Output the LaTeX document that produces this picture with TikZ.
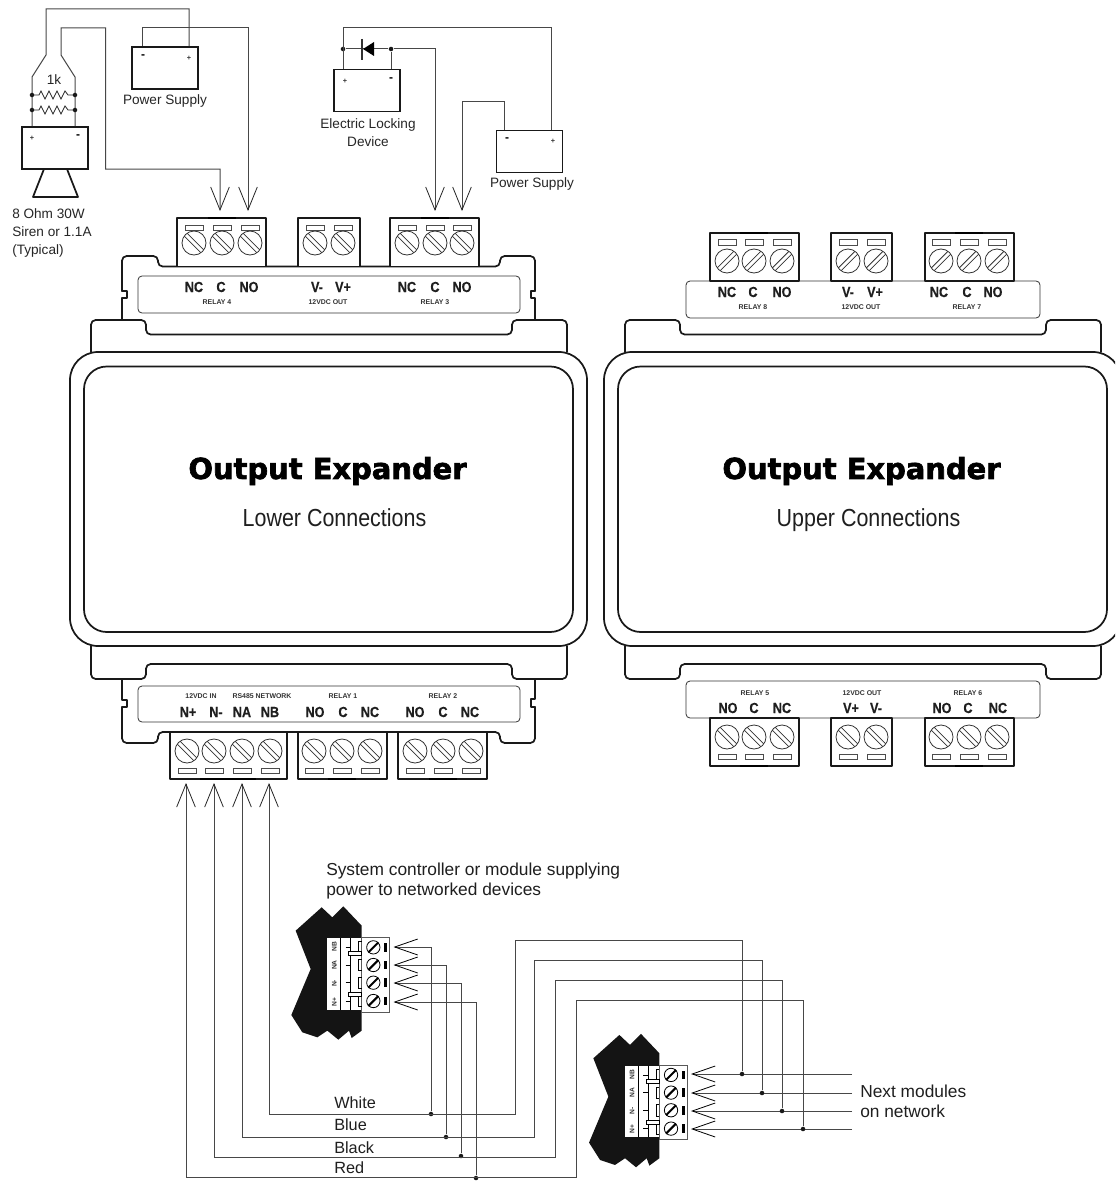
\documentclass[tikz,border=0pt]{standalone}
\usepackage{fontspec}
\setmainfont{Liberation Sans}
\newfontfamily\titlefont[FakeBold=2.2]{DejaVu Sans}
\newfontfamily\subfont[FakeStretch=0.87]{Liberation Sans}
\newfontfamily\termfont[FakeStretch=0.86,FakeBold=0.4]{Liberation Sans}
\usetikzlibrary{arrows.meta}
\newcommand{\fsz}[2]{\fontsize{#1}{#2}\selectfont}
\tikzset{
  thickl/.style={line width=1.3pt,black!90,line join=round,line cap=round},
  thinl/.style={line width=0.6pt,black!80},
  wire/.style={line width=0.75pt,black!72},
  barb/.style={-{Straight Barb[length=17.25pt,width=14pt,line width=0.6pt,black!85]}},
  barbs/.style={-{Straight Barb[length=17.25pt,width=12pt,line width=0.6pt,black]}},
  jdot/.style={circle,fill=black!90,inner sep=0,minimum size=3.4pt},
  devbox/.style={draw,line width=1.4pt,black!90,fill=white,inner sep=0,minimum width=49.5pt,minimum height=31.5pt},
  term/.style={inner sep=0,font=\termfont\bfseries\fsz{11}{12},text=black!88},
  small/.style={inner sep=0,font=\bfseries\fsz{5.2}{6},text=black!80},
  txt/.style={inner sep=0,font=\fsz{10.2}{13.2},text=black!85,align=center},
  big/.style={inner sep=0,font=\fsz{13}{15},text=black!88,align=left},
  signp/.style={inner sep=0,font=\bfseries\fsz{5.5}{7},text=black!80},
  signm/.style={inner sep=0,font=\bfseries\fsz{9}{10},text=black},
  title/.style={inner sep=0,font=\titlefont\bfseries\fsz{21.7}{24}},
  subt/.style={inner sep=0,anchor=base,font=\subfont\fsz{18.5}{22},text=black!88},
}
\newcommand{\screw}[3]{%
  \draw[thinl,fill=white] (#1,#2) circle[radius=12];
  \draw[thinl,shift={(#1,#2)},rotate=#3] (-11.8,-2)--(11.8,-2) (-11.8,2)--(11.8,2);}
\newcommand{\slotb}[3]{\draw[line width=0.6pt,black!70,fill=white] (#1-9,#2) rectangle (#1+9,#3);}
\newcommand{\modbody}{%
  \draw[thickl,rounded corners=21pt] (70,352) rectangle (587,646);
  \draw[thickl,rounded corners=17pt] (84,366.5) rectangle (573,632);
  \draw[thickl,rounded corners=3.5pt] (91,352)--(91,320)--(146,320)--(146,334.5)--(512,334.5)--(512,320)--(567,320)--(567,352);
  \draw[thickl,rounded corners=3.5pt] (91,646)--(91,679)--(146,679)--(146,664)--(512,664)--(512,679)--(567,679)--(567,646);
  \node[title] (T\modname) at (327.5,471) {Output Expander};
}
\newcommand{\device}[2]{%
\begin{scope}[shift={(#1,#2)},x=0.25pt,y=-0.25pt]
  \fill[black!92] (47,122)--(125,52)--(157,82)--(190,49)--(245,107)--(245,422)--(215,444)--(207,422)--(175,449)--(142,422)--(112,442)--(67,427)--(34,375)--(92,237)--cycle;
  \fill[white] (142,144) rectangle (245,359);
  \draw[line width=0.7pt,black] (181,144)--(181,359) (212,144)--(212,359);
  \draw[line width=0.6pt,black!65,fill=white] (245,142) rectangle (329,366);
  \foreach \c/\t/\u in {170/NB/a,225/NA/b,280/N-/c,335/N+/d}{
    \node[rotate=90,inner sep=0,font=\bfseries\fsz{5}{6},text=black!80] (dv#1\u) at (163,\c) {\t};
  }
  \foreach \c in {172,225,278,333}{
    \draw[line width=0.6pt,black] (197,\c)--(212,\c);
    \draw[line width=0.6pt,black] (245,\c-17)--(235,\c-17)--(235,\c+17)--(245,\c+17);
    \draw[line width=0.6pt,black,fill=white] (280,\c) circle[radius=20];
    \draw[line width=1.5pt,black] (265,\c+15)--(295,\c-15);
    \fill[black] (312,\c-13) rectangle (322,\c+13);
  }
  \draw[line width=0.6pt,black,fill=white] (206,185) rectangle (245,197);
  \draw[line width=0.6pt,black,fill=white] (206,307) rectangle (245,319);
\end{scope}}
\begin{document}
\begin{tikzpicture}[x=0.75pt,y=-0.75pt]
\useasboundingbox (0,0) rectangle (1115,1181);
\fill[white] (0,0) rectangle (1115,1181);
\clip (0,0) rectangle (1115,1181);

%---------- lower module body
\def\modname{L}
\modbody
\node[subt] (subL) at (334.5,526) {Lower Connections};
% clips
\draw[thickl] (122,320)--(122,298)--(127,298)--(127,291)--(122,291);
\draw[thickl,rounded corners=3.5pt] (122,291)--(122,256)--(158,256)--(158,266.5)--(500,266.5)--(500,256)--(535,256)--(535,291);
\draw[thickl] (535,291)--(531,291)--(531,298)--(535,298)--(535,320);
\draw[thickl] (122,679)--(122,700)--(127,700)--(127,707)--(122,707);
\draw[thickl,rounded corners=3.5pt] (122,707)--(122,743)--(158,743)--(158,732)--(500,732)--(500,743)--(535,743)--(535,707);
\draw[thickl] (535,707)--(531,707)--(531,699)--(535,699)--(535,679);
\draw[thinl,rounded corners=3pt,fill=white] (138,276) rectangle (520,313);
\draw[thinl,rounded corners=3pt,fill=white] (138,686) rectangle (520,722);

% top terminal blocks, lower module
\foreach \a/\b in {177/266,298/360,390/479}{\draw[thickl,fill=white] (\a,218) rectangle (\b,266.5);}
\foreach \a/\b in {208/236,421/449}{\draw[line width=2.2pt] (\a,218)--(\b,218);}
\foreach \x in {194,222,250,315,343,407,435,462}{\slotb{\x}{225}{230}\screw{\x}{243}{-45}}
% bottom terminal blocks, lower module
\foreach \a/\b in {170/287,298/387,398/487}{\draw[thickl,fill=white] (\a,732) rectangle (\b,779);}
\foreach \a/\b in {200/256,328/356,429/457}{\draw[line width=2.2pt] (\a,779)--(\b,779);}
\foreach \x in {187,214,242,270,314,342,370,415,443,471}{\slotb{\x}{768}{773}\screw{\x}{751}{-45}}

\foreach \x/\t/\n in {194/NC/a,221/C/b,249/NO/c,317/V-/d,343/V+/e,407/NC/f,435/C/g,462/NO/h}{\node[term] (lt\n) at (\x,287) {\t};}
\node[small] (r4) at (217,302) {RELAY 4};
\node[small] (vo1) at (328,302) {12VDC OUT};
\node[small] (r3) at (435,302) {RELAY 3};
\foreach \x/\t/\n in {188/N+/a,216/N-/b,242/NA/c,270/NB/d,315/NO/e,343/C/f,370/NC/g,415/NO/h,443/C/i,470/NC/j}{\node[term] (lb\n) at (\x,712) {\t};}
\node[small] (vin) at (201,696) {12VDC IN};
\node[small] (rs) at (262,696) {RS485 NETWORK};
\node[small] (r1) at (343,696) {RELAY 1};
\node[small] (r2) at (443,696) {RELAY 2};

%---------- upper module
\begin{scope}[shift={(534,0)}]
\def\modname{U}
\modbody
\node[subt] (subU) at (334.5,526) {Upper Connections};
\end{scope}
\draw[thinl,rounded corners=3pt,fill=white] (686,281) rectangle (1040,318);
\draw[thinl,rounded corners=3pt,fill=white] (686,681) rectangle (1040,718);
\foreach \a/\b in {710/799,831/892,925/1014}{\draw[thickl,fill=white] (\a,233) rectangle (\b,281);
  \draw[thickl,fill=white] (\a,718) rectangle (\b,766);}
\foreach \a/\b in {740/768,955/983}{\draw[line width=2.2pt] (\a,233)--(\b,233);\draw[line width=2.2pt] (\a,766)--(\b,766);}
\foreach \x in {727,754,782,848,876,941,969,997}{\slotb{\x}{239}{245}\screw{\x}{261}{45}
  \slotb{\x}{754}{759}\screw{\x}{737}{-45}}
\foreach \x/\t/\n in {727/NC/a,753/C/b,782/NO/c,848/V-/d,875/V+/e,939/NC/f,967/C/g,993/NO/h}{\node[term] (ut\n) at (\x,292) {\t};}
\node[small] (r8) at (753,307) {RELAY 8};
\node[small] (vo2) at (861,307) {12VDC OUT};
\node[small] (r7) at (967,307) {RELAY 7};
\foreach \x/\t/\n in {728/NO/a,754/C/b,782/NC/c,851/V+/d,876/V-/e,942/NO/f,968/C/g,998/NC/h}{\node[term] (ub\n) at (\x,708) {\t};}
\node[small] (r5) at (755,693) {RELAY 5};
\node[small] (vo3) at (862,693) {12VDC OUT};
\node[small] (r6) at (968,693) {RELAY 6};

%---------- terminal end points
\coordinate (t4c) at (220,211); \coordinate (t4no) at (248,211);
\coordinate (t3c) at (435,211); \coordinate (t3no) at (462,211);
\coordinate (tnp) at (186,783); \coordinate (tnm) at (214,783);
\coordinate (tna) at (242,783); \coordinate (tnb) at (269,783);

%---------- siren and power supply
\node[devbox] (siren) at (55,148) {};
\node[devbox] (ps1) at (165,68) {};
\draw[thickl] (44,169)--(33,197)--(78,197)--(67,169);
\node[signp] (s1) at (32,138) {+};
\node[signm] (s2) at (78,137) {-};
\node[signm] (s3) at (143,57) {-};
\node[signp] (s4) at (189,58) {+};
\draw[wire] (ps1.north -| 189,0)--(189,9)--(46,9)--(46,55)--(32,77)--(siren.north -| 32,0);
\draw[wire,barb] (siren.north -| 75,0)--(75,77)--(61,55)--(61,28)--(105.5,28)--(105.5,169)--(220,169)--(t4c);
\draw[wire,barb] (ps1.north -| 142,0)--(142,28)--(248,28)--(t4no);
\foreach \y/\n in {95/a,110/b}{
  \draw[line width=0.6pt,black!85] (32,\y)--(39,\y)--(41,\y-4)--(45,\y+4)--(49,\y-4)--(53,\y+4)--(57,\y-4)--(61,\y+4)--(65,\y-4)--(68,\y)--(75,\y);
  \node[jdot] (ra\n) at (32,\y) {};
  \node[jdot] (rb\n) at (75,\y) {};
}
\node[txt] (ohm) at (54,80) {1k};
\node[txt] (pstxt) at (165,101) {Power Supply};
\node[txt,align=left,anchor=north west,font=\fsz{10.2}{13.5}] (stxt) at (12,208.5) {8 Ohm 30W\\Siren or 1.1A\\(Typical)};

%---------- lock and second power supply
\node[devbox] (lock) at (367,90.5) {};
\node[devbox] (ps2) at (529.5,151.5) {};
\node[signp] (s5) at (345,81) {+};
\node[signm] (s6) at (391,80) {-};
\node[signm] (s7) at (507,140) {-};
\node[signp] (s8) at (553,141) {+};
\node[jdot] (j1) at (343,49) {};
\node[jdot] (j2) at (391,49) {};
\draw[wire] (ps2.north -| 551,0)--(551,28)--(343,28)--(lock.north -| 343,0);
\draw[wire] (j1)--(j2);
\draw[wire] (j2)--(lock.north -| 391,0);
\draw[wire,barb] (j2)--(435,49)--(t3c);
\draw[wire,barb] (ps2.north -| 504,0)--(504,101)--(462,101)--(t3no);
\fill[black] (363,49)--(374,42)--(374,56)--cycle;
\draw[line width=0.8pt,black!80] (362,39)--(362,60);
\node[txt] (ltxt) at (368,132.5) {Electric Locking\\Device};
\node[txt] (ps2txt) at (532,184) {Power Supply};

%---------- controllers
\device{280}{890}
\device{577.7}{1017.6}
\node[big,anchor=north west] (ctxt) at (326,863) {System controller or module supplying\\power to networked devices};
\foreach \n/\y in {a/947,b/965,c/983,d/1002}{\coordinate (c1\n) at (393.5,\y);}
\foreach \n/\y in {a/1074,b/1093,c/1111,d/1129}{\coordinate (c2\n) at (691,\y);\coordinate (e2\n) at (852,\y);\draw[wire,barbs] (e2\n)--(c2\n);}
\node[jdot] (b1) at (431,1114) {};
\node[jdot] (b2) at (446,1137) {};
\node[jdot] (b3) at (461,1156) {};
\node[jdot] (b4) at (476,1178) {};
\node[jdot] (b5) at (742,1074) {};
\node[jdot] (b6) at (762,1093) {};
\node[jdot] (b7) at (782,1111) {};
\node[jdot] (b8) at (803,1129) {};
\draw[wire,barbs] (b1)--(431,947)--(c1a);
\draw[wire,barbs] (b2)--(446,965)--(c1b);
\draw[wire,barbs] (b3)--(461,983)--(c1c);
\draw[wire,barbs] (b4)--(476,1002)--(c1d);
\draw[wire,barb] (b5)--(742,940)--(515,940)--(515,1114)--(269,1114)--(tnb);
\draw[wire,barb] (b6)--(762,960)--(534,960)--(534,1137)--(242,1137)--(tna);
\draw[wire,barb] (b7)--(782,980)--(555,980)--(555,1157)--(214,1157)--(tnm);
\draw[wire,barb] (b8)--(803,1000)--(576,1000)--(576,1177)--(186,1177)--(tnp);
\foreach \t/\y/\n in {White/1103/a,Blue/1125/b,Black/1148/c,Red/1168/d}{\node[big,anchor=west,font=\fsz{12.2}{15}] (col\n) at (334,\y) {\t};}
\node[big,anchor=north west] (ntxt) at (860,1085) {Next modules\\on network};
\end{tikzpicture}
\end{document}
